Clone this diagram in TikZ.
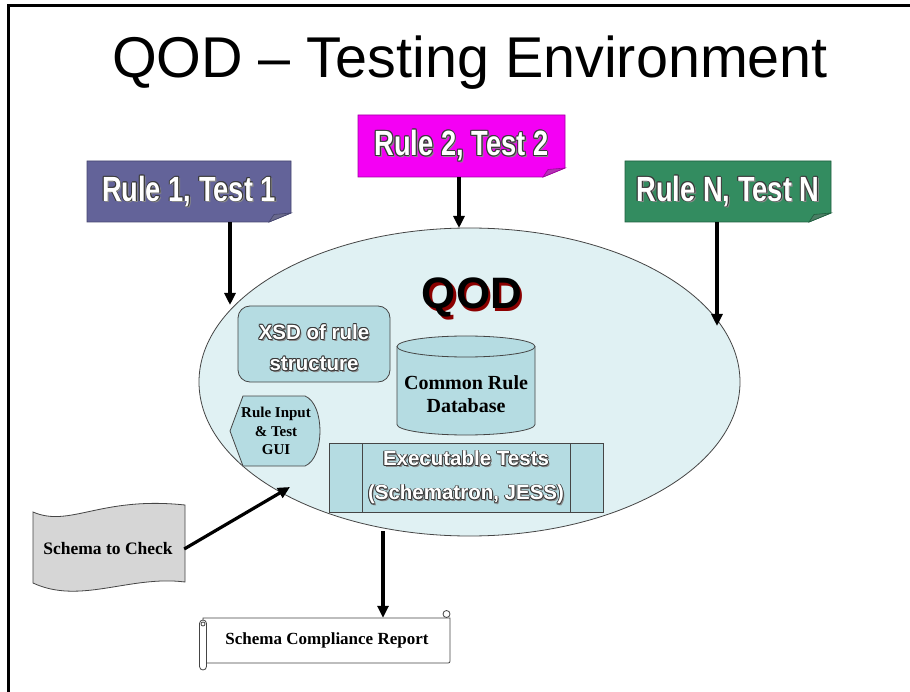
\documentclass[tikz,border=0pt]{standalone}
\usepackage{fontspec}
\setmainfont{Liberation Serif}
\newfontfamily\arialf{Liberation Sans}
\newfontfamily\narrowf[FakeStretch=0.78]{Liberation Sans}
\usetikzlibrary{arrows.meta,shapes.geometric}
\definecolor{rOne}{HTML}{636399}
\definecolor{rOneD}{HTML}{45456F}
\definecolor{rTwo}{HTML}{F400F4}
\definecolor{rTwoD}{HTML}{A000A0}
\definecolor{rN}{HTML}{338C60}
\definecolor{rND}{HTML}{1F5E3E}
\definecolor{ellfill}{HTML}{E0F1F3}
\definecolor{inner}{HTML}{B5DCE2}
\definecolor{edge}{HTML}{454545}
\definecolor{outl}{HTML}{3A3A3A}
\definecolor{shad}{HTML}{8A8A8A}
\definecolor{scfill}{HTML}{D6D6D6}
\definecolor{qodred}{HTML}{8B0000}
\newbox\olbx
\newcommand\ol[1]{\setbox\olbx=\hbox{#1}\makebox[\wd\olbx][l]{%
  \rlap{\kern1.6pt\raisebox{-1.6pt}{\color{shad}\copy\olbx}}%
  \rlap{\kern-0.8pt\color{outl}\copy\olbx}%
  \rlap{\kern0.8pt\color{outl}\copy\olbx}%
  \rlap{\raisebox{0.8pt}{\color{outl}\copy\olbx}}%
  \rlap{\raisebox{-0.8pt}{\color{outl}\copy\olbx}}%
  \rlap{\kern-0.6pt\raisebox{0.6pt}{\color{outl}\copy\olbx}}%
  \rlap{\kern0.6pt\raisebox{0.6pt}{\color{outl}\copy\olbx}}%
  \rlap{\kern-0.6pt\raisebox{-0.6pt}{\color{outl}\copy\olbx}}%
  \rlap{\kern0.6pt\raisebox{-0.6pt}{\color{outl}\copy\olbx}}%
  \rlap{\color{white}\copy\olbx}}}
\begin{document}
\begin{tikzpicture}[x=1pt,y=-1pt,
  arr/.style={line width=3.2pt,-{Triangle[length=12pt,width=11pt]}},
  ruletext/.style={font=\narrowf\bfseries\fontsize{35}{40}\selectfont,inner sep=0,minimum width=204,minimum height=61},
  shape line/.style={draw=edge,line width=0.8pt},
  outtext/.style={font=\arialf\bfseries\fontsize{20.5}{31}\selectfont,align=center,inner sep=0},
  sertext/.style={font=\bfseries,align=center,inner sep=0}]
\useasboundingbox (0,0) rectangle (910,692);
\fill[white] (0,0) rectangle (910,692);
% slide frame
\draw[line width=3pt] (8,692) -- (8,6) -- (910,6);
% title
\node[font=\arialf\fontsize{57.5}{64}\selectfont,inner sep=0] (title) at (470,63) {QOD – Testing Environment};
% rule boxes
\filldraw[fill=rOne,draw=rOneD,line width=0.8pt] (87,161) -- (291,161) -- (291,213) -- (269,222) -- (87,222) -- cycle;
\filldraw[fill=rOneD!80!white,draw=rOneD,line width=0.6pt] (269,222) -- (291,213) -- (274,214.5) -- cycle;
\node[ruletext] (r1) at (189,191.5) {\ol{Rule 1, Test 1}};
\filldraw[fill=rTwo,draw=rTwoD,line width=0.8pt] (358,115) -- (565,115) -- (565,168) -- (543,177) -- (358,177) -- cycle;
\filldraw[fill=rTwoD!80!white,draw=rTwoD,line width=0.6pt] (543,177) -- (565,168) -- (548,169.5) -- cycle;
\node[ruletext,minimum width=207,minimum height=62] (r2) at (461.5,146) {\ol{Rule 2, Test 2}};
\filldraw[fill=rN,draw=rND,line width=0.8pt] (625,161) -- (831,161) -- (831,213) -- (809,222) -- (625,222) -- cycle;
\filldraw[fill=rND!80!white,draw=rND,line width=0.6pt] (809,222) -- (831,213) -- (814,214.5) -- cycle;
\node[ruletext,minimum width=206] (rn) at (728,191.5) {\ol{Rule N, Test N}};
% QOD ellipse
\node[ellipse,fill=ellfill,draw=edge,line width=0.8pt,minimum width=541,minimum height=308,inner sep=0] (qod) at (469.5,382) {};
\node[font=\arialf\bfseries\fontsize{44}{48}\selectfont,inner sep=0] (qodlabel) at (472,299) {\rlap{\kern2.5pt\raisebox{-2.5pt}{\color{qodred}QOD}}QOD};
% XSD box
\node[shape line,fill=inner,rounded corners=12pt,minimum width=152,minimum height=76,inner sep=0] (xsdbox) at (314,344) {};
\node[outtext] (xsd) at (314,348) {\ol{XSD of rule}\\\ol{structure}};
% cylinder
\filldraw[fill=inner,shape line] (397,346.5) -- (397,424.5) arc[start angle=180,end angle=0,x radius=69,y radius=10.5] -- (535,346.5);
\filldraw[fill=inner,shape line] (466,346.5) ellipse[x radius=69,y radius=10.5];
\node[sertext,font=\bfseries\fontsize{20}{23}\selectfont] (crd) at (466,394) {Common Rule\\Database};
% Rule input display shape
\filldraw[fill=inner,shape line] (230,431) -- (243,396) -- (305,396) .. controls (325,404) and (325,458) .. (305,466) -- (243,466) -- cycle;
\node[sertext,font=\bfseries\fontsize{15}{18.5}\selectfont] (gui) at (276,431) {Rule Input\\\& Test\\GUI};
% Executable tests
\filldraw[fill=inner,shape line] (329,443) rectangle (603,512);
\draw[shape line] (362,443) -- (362,512) (570,443) -- (570,512);
\node[outtext,font=\arialf\bfseries\fontsize{20.5}{34}\selectfont] (exe) at (466,478) {\ol{Executable Tests}\\\ol{(Schematron, JESS)}};
% Schema to check
\filldraw[fill=scfill,shape line] (33,512) .. controls (70,528) and (100,496) .. (185,505) -- (185,582) .. controls (130,575) and (80,605) .. (33,583) -- cycle;
\node[sertext,font=\bfseries\fontsize{17.5}{20}\selectfont,minimum width=152] (sc) at (108,549) {Schema to Check};
% Report scroll
\filldraw[fill=white,shape line] (203,618) -- (450,618) -- (450,659) .. controls (450,663) .. (446,663) -- (203,663) -- cycle;
\filldraw[fill=white,shape line,rounded corners=3.5pt] (199.5,620) rectangle (206.5,670);
\draw[shape line] (203,624) circle[radius=2];
\filldraw[fill=white,shape line] (446.5,614) circle[radius=3.5];
\node[sertext,font=\bfseries\fontsize{17}{20}\selectfont,minimum width=248,minimum height=45] (rep) at (327,640.5) {Schema Compliance Report};
% connectors
\coordinate (r1tip) at (230,305);
\coordinate (r2tip) at (459,228);
\coordinate (rntip) at (717,326);
\coordinate (sctip) at (290,487);
\coordinate (qodout) at (383,531);
\draw[arr] (r1.south -| r1tip) -- (r1tip);
\draw[arr] (r2.south -| r2tip) -- (r2tip);
\draw[arr] (rn.south -| rntip) -- (rntip);
\draw[arr] (sc.east) -- (sctip);
\draw[arr] (qodout) -- (qodout |- rep.north);
\end{tikzpicture}
\end{document}
